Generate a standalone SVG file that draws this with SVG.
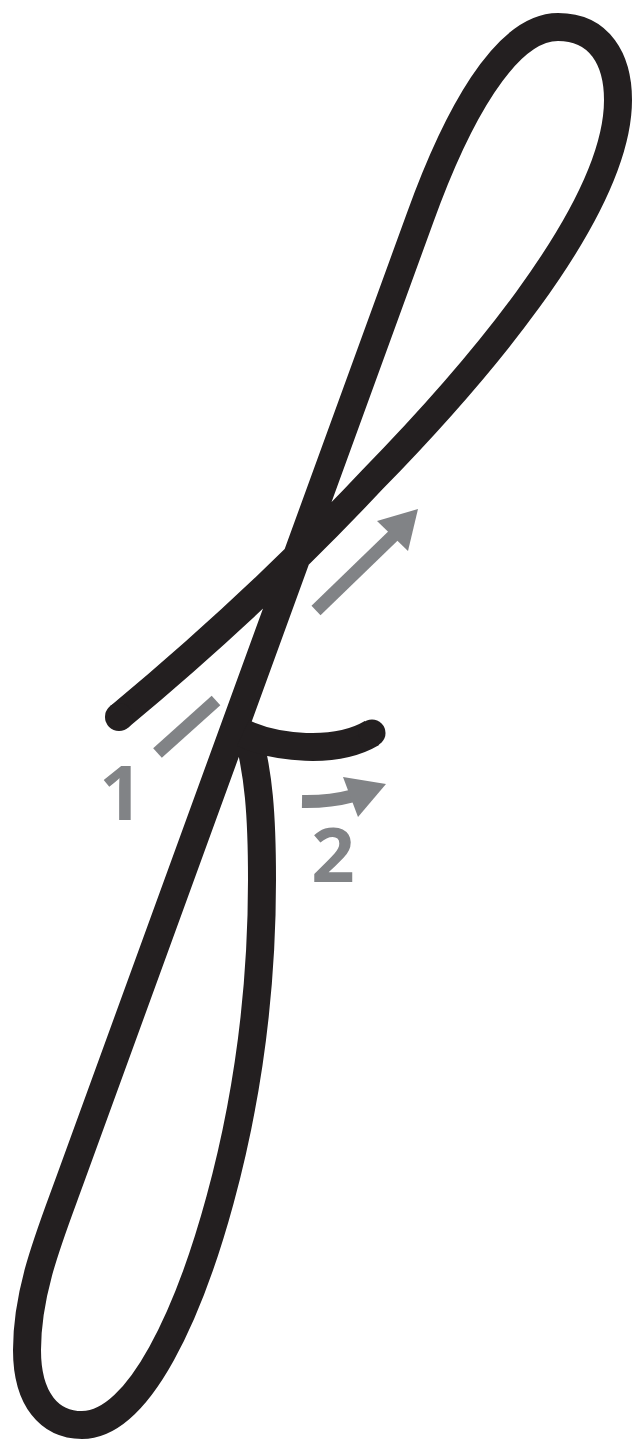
<svg xmlns="http://www.w3.org/2000/svg" width="632" height="1442" viewBox="0 0 632 1442">
<style>
.ink{fill:none;stroke:#231f20;stroke-width:28;stroke-linecap:butt;stroke-linejoin:round}
.guide{fill:none;stroke:#818386;stroke-width:13}
.head{fill:#818386}
.num{font-family:"Open Sans","Liberation Sans",sans-serif;font-weight:700;font-size:76px;fill:#818386;text-anchor:middle}
</style>
<rect width="632" height="1442" fill="#fff"/>
<g id="stroke1">
<path class="ink" d="M119,717 C190,658 280,578 372,480 C460,390 618,215 618,100 C618,60 600,27 558,27 C505,27 456,118 420,218 L70,1180 C50,1235 27,1290 27,1350 C27,1400 50,1425 82,1425 C140,1425 190,1310 220,1200 C250,1090 262,980 262,880 C262,810 258,775 249,738"/>
<circle cx="119" cy="717" r="14" fill="#231f20"/>
</g>
<g id="stroke2">
<path class="ink" d="M243,733 C275,748 335,755 372,733"/>
<circle cx="372" cy="733" r="13.5" fill="#231f20"/>
</g>
<g id="connectors">
<line class="guide" x1="157.5" y1="753" x2="216" y2="700.5"/>
<line class="guide" x1="316" y1="610.5" x2="394" y2="535"/>
<polygon class="head" points="377,521 418,509 408,551"/>
<path class="guide" d="M302,801.5 Q330,802 352,796"/>
<polygon class="head" points="343,777 386,784 358,817"/>
</g>
<g id="label1"><text class="num" x="121" y="820">1</text></g>
<g id="label2"><text class="num" x="333" y="882">2</text></g>
</svg>
